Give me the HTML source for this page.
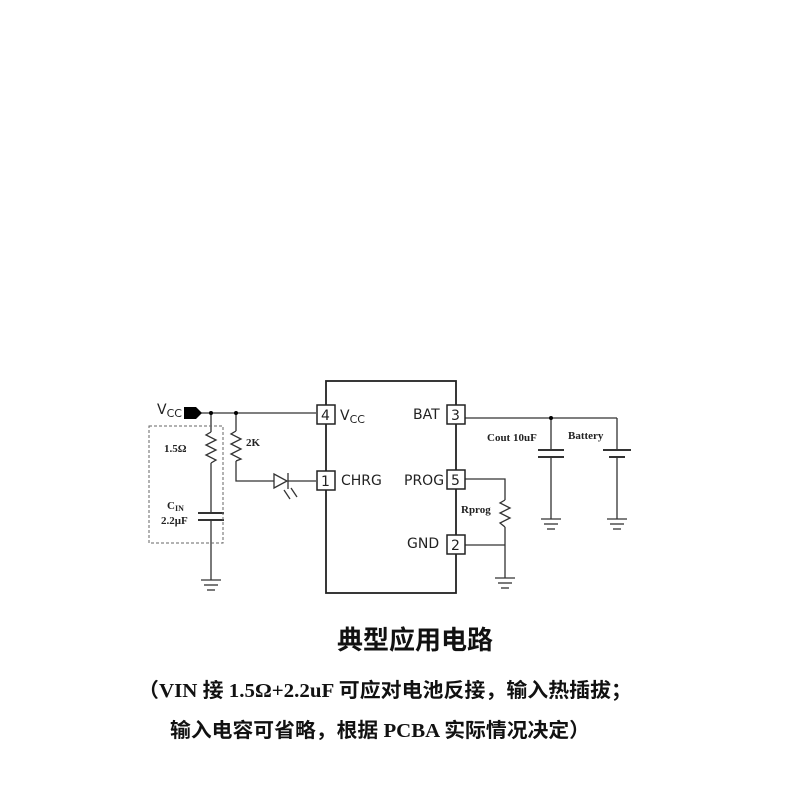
<!DOCTYPE html>
<html><head><meta charset="utf-8"><style>
html,body{margin:0;padding:0;background:#fff;width:800px;height:800px;overflow:hidden}
</style></head><body>
<svg width="800" height="800" viewBox="0 0 800 800" xmlns="http://www.w3.org/2000/svg">
<g fill="none" stroke="#333" stroke-width="1.3">
<rect x="326" y="381" width="130" height="212" stroke="#222" stroke-width="1.8"/>
<line x1="200" y1="413" x2="316" y2="413"/>
<line x1="211" y1="413" x2="211" y2="432"/>
<polyline points="211,432 206,435 216,440 206,445 216,450 206,455 216,460 211,463"/>
<line x1="211" y1="463" x2="211" y2="513"/>
<line x1="198" y1="513" x2="224" y2="513" stroke-width="2"/>
<line x1="198" y1="520" x2="224" y2="520" stroke-width="2"/>
<line x1="211" y1="520" x2="211" y2="580"/>
<line x1="201" y1="580" x2="221" y2="580"/>
<line x1="204" y1="585" x2="218" y2="585"/>
<line x1="207" y1="590" x2="215" y2="590"/>
<rect x="149" y="426" width="74" height="117" stroke-dasharray="3,2" stroke="#666" stroke-width="1"/>
<line x1="236" y1="413" x2="236" y2="431"/>
<polyline points="236,431 231,434 241,439 231,444 241,449 231,454 241,459 236,461"/>
<polyline points="236,461 236,481 274,481"/>
<polygon points="274,474 274,488 287,481" fill="#fff"/>
<line x1="288" y1="473" x2="288" y2="489"/>
<line x1="288" y1="481" x2="316" y2="481"/>
<line x1="284" y1="490" x2="290" y2="499"/>
<line x1="291" y1="488" x2="297" y2="497"/>
<line x1="465" y1="418" x2="617" y2="418"/>
<line x1="551" y1="418" x2="551" y2="450"/>
<line x1="538" y1="450" x2="564" y2="450" stroke-width="2"/>
<line x1="538" y1="457" x2="564" y2="457" stroke-width="2"/>
<line x1="551" y1="457" x2="551" y2="519"/>
<line x1="541" y1="519" x2="561" y2="519"/>
<line x1="544" y1="524" x2="558" y2="524"/>
<line x1="547" y1="529" x2="555" y2="529"/>
<line x1="617" y1="418" x2="617" y2="450"/>
<line x1="603" y1="450" x2="631" y2="450" stroke-width="2"/>
<line x1="609" y1="457" x2="625" y2="457" stroke-width="2"/>
<line x1="617" y1="457" x2="617" y2="519"/>
<line x1="607" y1="519" x2="627" y2="519"/>
<line x1="610" y1="524" x2="624" y2="524"/>
<line x1="613" y1="529" x2="621" y2="529"/>
<polyline points="465,479 505,479 505,500"/>
<polyline points="505,500 500,503 510,508 500,513 510,518 500,523 505,527"/>
<line x1="505" y1="527" x2="505" y2="578"/>
<line x1="465" y1="545" x2="505" y2="545"/>
<line x1="495" y1="578" x2="515" y2="578"/>
<line x1="498" y1="583" x2="512" y2="583"/>
<line x1="501" y1="588" x2="509" y2="588"/>
<g fill="#fff" stroke="#222" stroke-width="1.5">
<rect x="317" y="405" width="18" height="19"/>
<rect x="317" y="471" width="18" height="19"/>
<rect x="447" y="405" width="18" height="19"/>
<rect x="447" y="470" width="18" height="19"/>
<rect x="447" y="535" width="18" height="19"/>
</g>
</g>
<polygon points="184,407 196,407 202,413 196,419 184,419" fill="#000"/>
<circle cx="211" cy="413" r="2" fill="#000"/>
<circle cx="236" cy="413" r="2" fill="#000"/>
<circle cx="551" cy="418" r="2" fill="#000"/>
<g font-family="'DejaVu Sans','Liberation Sans',sans-serif" font-size="14" fill="#222">
<text x="321" y="420">4</text><text x="321" y="486">1</text>
<text x="451" y="420">3</text><text x="451" y="485">5</text><text x="451" y="550">2</text>
<text x="340" y="420">V<tspan font-size="11" dy="3">CC</tspan></text>
<text x="341" y="485">CHRG</text>
<text x="413" y="419">BAT</text>
<text x="404" y="485">PROG</text>
<text x="407" y="548">GND</text>
<text x="157" y="414">V<tspan font-size="11" dy="3">CC</tspan></text>
</g>
<g font-family="'Liberation Serif',serif" font-size="11" font-weight="bold" fill="#222">
<text x="164" y="452">1.5Ω</text>
<text x="246" y="446">2K</text>
<text x="167" y="509">C<tspan font-size="8" dy="2">IN</tspan></text>
<text x="161" y="524">2.2μF</text>
<text x="487" y="441">Cout 10uF</text>
<text x="568" y="439">Battery</text>
<text x="461" y="513">Rprog</text>
</g>
<g font-family="'Liberation Serif','Noto Sans CJK SC',sans-serif" font-weight="bold" fill="#111">
<text x="337" y="649" font-size="26" textLength="156" lengthAdjust="spacingAndGlyphs" font-family="'Noto Sans CJK SC',sans-serif">典型应用电路</text>
<text x="138" y="697" font-size="20" textLength="494" lengthAdjust="spacingAndGlyphs">（VIN 接 1.5Ω+2.2uF 可应对电池反接，输入热插拔；</text>
<text x="170" y="737" font-size="20" textLength="420" lengthAdjust="spacingAndGlyphs">输入电容可省略，根据 PCBA 实际情况决定）</text>
</g>
</svg>
</body></html>
